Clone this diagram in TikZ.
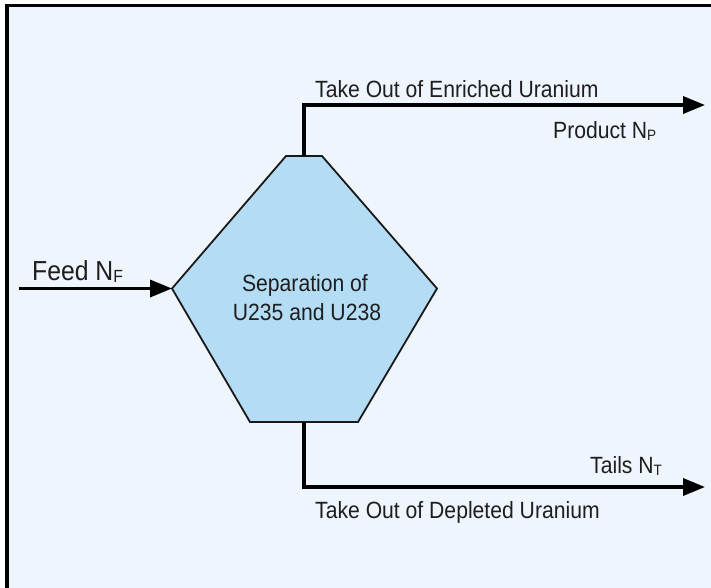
\documentclass[tikz,border=0pt]{standalone}
\usepackage{fontspec}
\setmainfont[FakeStretch=0.9]{Liberation Sans}
\usetikzlibrary{arrows.meta}
\definecolor{bgblue}{RGB}{239,245,253}
\definecolor{hexblue}{RGB}{180,221,245}
\definecolor{txt}{RGB}{30,30,30}
\newcommand\lowsub[1]{\raisebox{-0.09em}{\scalebox{0.64}{#1}}}
\tikzset{
  flow/.style={line width=3.5pt, -{Triangle[length=22pt,width=17pt]}},
  lbl/.style={inner sep=0pt, anchor=base west, text=txt, font=\fontsize{23.5}{28}\selectfont},
  hexbox/.style={fill=hexblue, draw=black!90, line width=1.8pt, line join=miter},
}
\begin{document}
\begin{tikzpicture}[x=1pt,y=-1pt]
\useasboundingbox (0,0) rectangle (711,587);
\clip (0,0) rectangle (711,587);
\fill[white] (0,0) rectangle (711,587);
\fill[bgblue] (7,5.5) rectangle (720,600);
\draw[line width=3.5pt] (7,600) -- (7,5.5) -- (720,5.5);

% hexagon
\coordinate (hl) at (172,288.5);
\coordinate (ht) at (304,156);
\coordinate (hb) at (304,422);
\draw[hexbox] (286,156) -- (322,156) -- (437,288.5) -- (358,422) -- (250,422) -- (hl) -- cycle;
\node[lbl, anchor=base] (sep1) at (305,291) {Separation of};
\node[lbl, anchor=base] (sep2) at (307,320) {U235 and U238};

% connectors
\coordinate (feedstart) at (19,288.5);
\coordinate (ptip) at (705,105);
\coordinate (ttip) at (705,487);
\draw[flow] (feedstart) -- (hl);
\draw[flow] (ht) |- (ptip);
\draw[flow] (hb) |- (ttip);

% labels
\node[lbl, font=\fontsize{27.5}{32}\selectfont] (feed) at (32,280) {Feed N\lowsub{F}};
\node[lbl] (enr) at (315,97) {Take Out of Enriched Uranium};
\node[lbl] (prod) at (553,138) {Product N\lowsub{P}};
\node[lbl] (tails) at (590,473) {Tails N\lowsub{T}};
\node[lbl] (depl) at (315,518) {Take Out of Depleted Uranium};
\end{tikzpicture}
\end{document}
